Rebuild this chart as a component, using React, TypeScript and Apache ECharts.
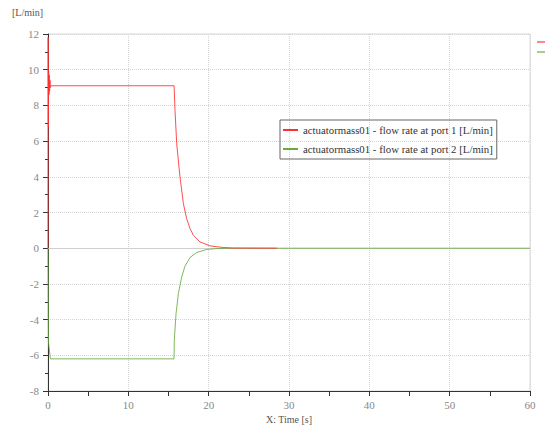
import React, { useEffect, useRef } from "react";
import * as echarts from "echarts";

const seriesNames = [
  "actuatormass01 - flow rate at port 1 [L/min]",
  "actuatormass01 - flow rate at port 2 [L/min]",
];

const port1Time = [0, 0.02, 0.05, 0.08, 0.12, 0.16, 0.2, 0.25, 0.3, 0.4, 15.7, 15.81, 16.02, 16.43, 16.85, 17.26, 17.68, 18.09, 18.92, 20.17, 21.8, 23, 28.5];
const port1Flow = [0, 11.8, 6.8, 9.9, 8.6, 9.7, 8.8, 9.4, 9.0, 9.1, 9.1, 7.73, 5.87, 3.99, 2.5, 1.66, 1.1, 0.73, 0.35, 0.13, 0.04, 0.01, 0];

const port2Time = [0, 0.05, 0.3, 15.69, 15.72, 15.94, 16.23, 16.64, 17.05, 17.68, 18.51, 19.76, 21, 23, 60];
const port2Flow = [0, -5.2, -6.2, -6.2, -5.15, -3.66, -2.54, -1.61, -1.01, -0.52, -0.24, -0.07, -0.02, 0, 0];

const xTicks = { min: 0, max: 60, interval: 10 };
const yTicks = { min: -8, max: 12, interval: 2 };

const FONT = "Liberation Serif";

export default function App() {
  const ref = useRef<HTMLDivElement>(null);
  useEffect(() => {
    if (!ref.current) return;
    const chart = echarts.init(ref.current, null, { renderer: "svg" });
    const d1 = port1Time.map((t, i) => [t, port1Flow[i]]);
    const d2 = port2Time.map((t, i) => [t, port2Flow[i]]);
    chart.setOption({
      animation: false,
      backgroundColor: "#ffffff",
      grid: {
        left: 48,
        right: 15,
        top: 34,
        bottom: 34,
        outerBoundsMode: "none",
        containLabel: false,
        show: true,
        borderColor: "#d8d8d8",
        borderWidth: 1,
      },
      legend: {
        left: 280,
        top: 120,
        orient: "vertical",
        borderColor: "#666",
        borderWidth: 1,
        padding: [4, 4, 4, 3],
        itemGap: 7,
        itemWidth: 15,
        itemHeight: 2,
        icon: "rect",
        data: seriesNames,
        textStyle: { fontFamily: FONT, fontSize: 10.8, color: "#333", lineHeight: 12 },
      },
      xAxis: {
        type: "value",
        min: xTicks.min,
        max: xTicks.max,
        interval: xTicks.interval,
        name: "X: Time [s]",
        nameLocation: "middle",
        nameGap: 20,
        nameTextStyle: { fontFamily: FONT, fontSize: 10, color: "#555" },
        axisLine: { onZero: false, lineStyle: { color: "#333", width: 1 } },
        axisTick: { show: true, length: 5, lineStyle: { color: "#333" } },
        minorTick: { show: true, splitNumber: 2, length: 5, lineStyle: { color: "#333" } },
        axisLabel: { fontFamily: FONT, fontSize: 11, color: "#888", margin: 8 },
        splitLine: { show: true, lineStyle: { type: "dotted", color: "#d5d5d5" } },
      },
      yAxis: {
        type: "value",
        min: yTicks.min,
        max: yTicks.max,
        interval: yTicks.interval,
        axisLine: { show: true, onZero: false, lineStyle: { color: "#333", width: 1 } },
        axisTick: { show: true, length: 5, lineStyle: { color: "#333" } },
        minorTick: { show: true, splitNumber: 2, length: 3, lineStyle: { color: "#333" } },
        axisLabel: { fontFamily: FONT, fontSize: 11, color: "#888", margin: 9 },
        splitLine: { show: true, lineStyle: { type: "dotted", color: "#d5d5d5" } },
      },
      series: [
        {
          name: seriesNames[0],
          type: "line",
          data: d1,
          showSymbol: false,
          color: "#ff3030",
          lineStyle: { width: 1, color: "#ff3030", opacity: 0.85 },
          z: 3,
          markLine: {
            silent: true,
            symbol: "none",
            label: { show: false },
            lineStyle: { type: "solid", color: "#cfcfcf", width: 1 },
            data: [{ yAxis: 0 }],
            z: 1,
          },
        },
        {
          name: seriesNames[1],
          type: "line",
          data: d2,
          showSymbol: false,
          color: "#6aaa40",
          lineStyle: { width: 1, color: "#6aaa40", opacity: 0.85 },
          z: 2,
        },
      ],
      graphic: [
        {
          type: "text",
          left: 12,
          top: 7,
          style: { text: "[L/min]", fontFamily: FONT, fontSize: 10, fill: "#555" },
        },
        {
          type: "line",
          shape: { x1: 537, y1: 42, x2: 545, y2: 42 },
          style: { stroke: "#ff6060", lineWidth: 1.5 },
        },
        {
          type: "line",
          shape: { x1: 537, y1: 52, x2: 545, y2: 52 },
          style: { stroke: "#8cbf6a", lineWidth: 1.5 },
        },
      ],
    });
    return () => chart.dispose();
  }, []);
  return (
    <div
      ref={ref}
      style={{ position: "absolute", left: 0, top: 0, width: 545, height: 425 }}
    />
  );
}
